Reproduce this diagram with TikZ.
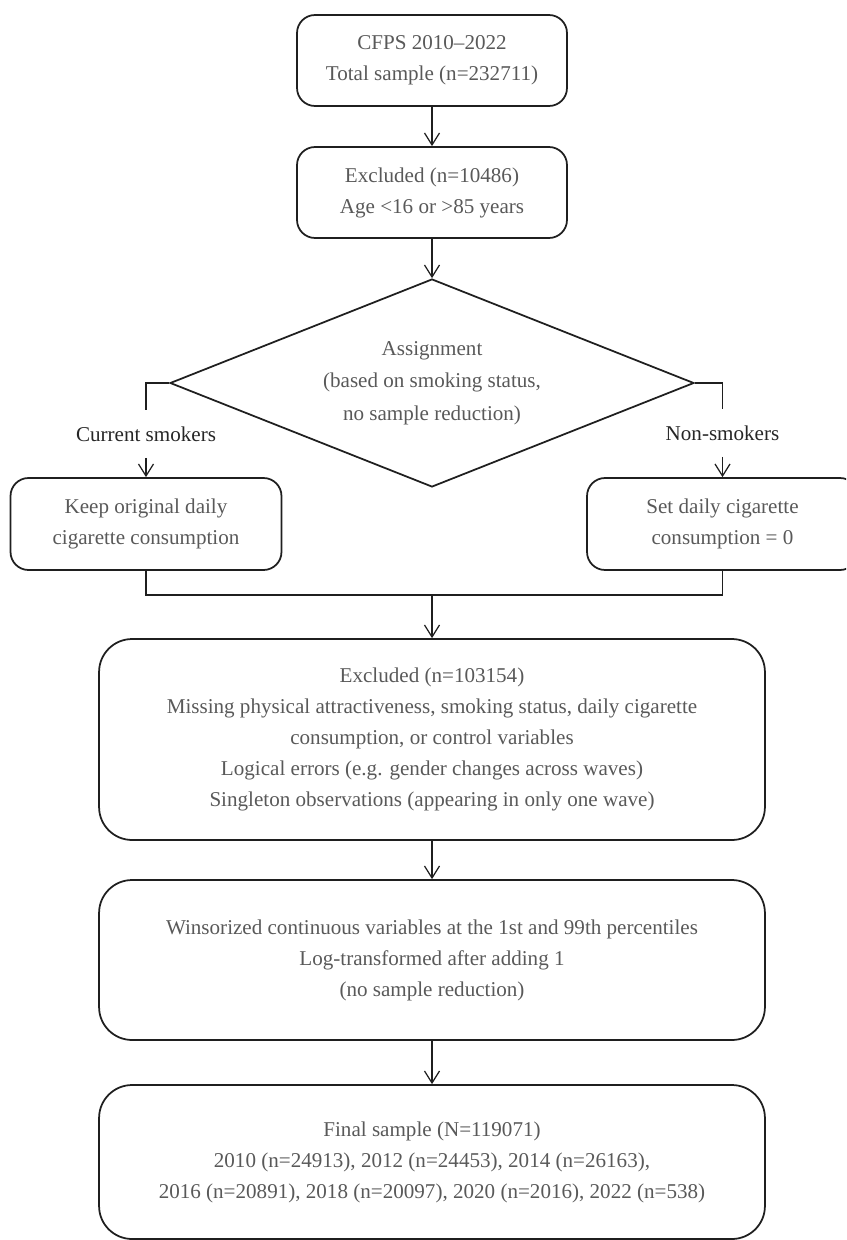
\documentclass[tikz,border=0pt]{standalone}
\usepackage{fontspec}
\setmainfont{Liberation Serif}
\usetikzlibrary{shapes.geometric,arrows.meta}

\definecolor{boxtext}{HTML}{595959}
\definecolor{labeltext}{HTML}{262626}
\definecolor{linegray}{HTML}{1F1F1F}

\tikzset{
  smallbox/.style={draw=linegray,line width=1pt,rounded corners=0.36cm,
    text=boxtext,align=center,inner sep=0pt,
    minimum width=5.4cm,minimum height=1.82cm,
    font=\fontsize{12}{17.6}\selectfont},
  widebox/.style={smallbox,rounded corners=0.66cm,minimum width=13.32cm},
  choice/.style={diamond,shape aspect=2.52,draw=linegray,line width=1pt,
    text=boxtext,align=center,inner sep=0pt,
    minimum width=10.48cm,minimum height=4.16cm,
    font=\fontsize{12}{18.4}\selectfont},
  branch/.style={text=labeltext,inner sep=0pt,minimum height=0.94cm,
    font=\fontsize{12}{17.6}\selectfont},
  link/.style={draw=linegray,line width=0.7pt},
  flow/.style={link,-{Straight Barb[length=0.24cm,width=0.3cm]}},
}

\begin{document}
\begin{tikzpicture}[x=0.02cm,y=-0.02cm]
  \path[use as bounding box] (0,0) rectangle (846,1240);
  \clip (0,0) rectangle (846,1240);

  % sample selection
  \node[smallbox] (cfps) at (432,60.5) {CFPS 2010–2022\\Total sample (n=232711)};
  \node[smallbox] (agecut) at (432,192.5) {Excluded (n=10486)\\Age <16 or >85 years};
  \node[choice] (assign) at (432,383)
    {Assignment\\(based on smoking status,\\no sample reduction)};

  % two branches
  \node[branch] (smokers) at (146,434) {Current smokers};
  \node[branch] (nonsmokers) at (722.5,433) {Non-smokers};
  \node[smallbox,minimum width=5.42cm,minimum height=1.84cm] (keep) at (146,524)
    {Keep original daily\\cigarette consumption};
  \node[smallbox,minimum width=5.42cm,minimum height=1.84cm] (setzero) at (722.5,524)
    {Set daily cigarette\\consumption = 0};
  \coordinate (merge) at (432,595);

  % cleaning and final sample
  \node[widebox,minimum height=4.02cm] (missing) at (432,739.5)
    {Excluded (n=103154)\\
     Missing physical attractiveness, smoking status, daily cigarette\\
     consumption, or control variables\\
     Logical errors (e.g. gender changes across waves)\\
     Singleton observations (appearing in only one wave)};
  \node[widebox,minimum height=3.2cm] (winsor) at (432,960)
    {Winsorized continuous variables at the 1st and 99th percentiles\\
     Log-transformed after adding 1\\
     (no sample reduction)};
  \node[widebox,minimum height=3.08cm] (final) at (432,1162)
    {Final sample (N=119071)\\
     2010 (n=24913), 2012 (n=24453), 2014 (n=26163),\\
     2016 (n=20891), 2018 (n=20097), 2020 (n=2016), 2022 (n=538)};

  \draw[flow] (cfps) -- (agecut);
  \draw[flow] (agecut) -- (assign);
  \draw[link] (assign.west) -| (smokers.north);
  \draw[flow] (smokers) -- (keep);
  \draw[link] (assign.east) -| (nonsmokers.north);
  \draw[flow] (nonsmokers) -- (setzero);
  \draw[link] (keep.south) |- (merge) -| (setzero.south);
  \draw[flow] (merge) -- (missing);
  \draw[flow] (missing) -- (winsor);
  \draw[flow] (winsor) -- (final);
\end{tikzpicture}
\end{document}
